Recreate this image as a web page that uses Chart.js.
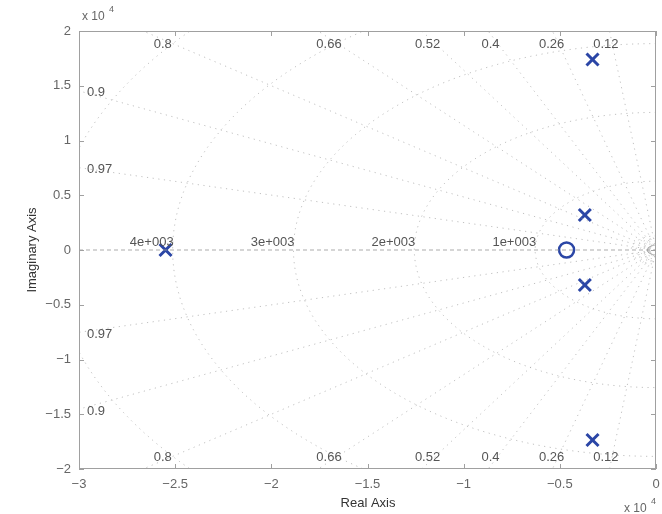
<!DOCTYPE html>
<html>
<head>
<meta charset="utf-8">
<script src="https://cdn.jsdelivr.net/npm/chart.js@4/dist/chart.umd.min.js"></script>
<style>
  body { margin: 0; background: #fff; }
  canvas { display: block; }
</style>
</head>
<body>
<canvas id="pzmap" width="662" height="514"></canvas>
<script>
// values are in units of 1e4 (axis multiplier "x 10^4")
var poleReal = [-2.55, -0.33, -0.37, -0.37, -0.33];
var poleImag = [0, 1.74, 0.32, -0.32, -1.735];
var zeroReal = [-0.465];
var zeroImag = [0];

// sgrid values
var zetaValues = [0.12, 0.26, 0.4, 0.52, 0.66, 0.8, 0.9, 0.97];
var freqHz = [1000, 2000, 3000, 4000, 5000];
var freqLabels = ["1e+003", "2e+003", "3e+003", "4e+003", ""];
var smallFreqHz = [70, 100, 130, 165, 205];

var xTicks = [-3, -2.5, -2, -1.5, -1, -0.5, 0];
var yTicks = [-2, -1.5, -1, -0.5, 0, 0.5, 1, 1.5, 2];

var gridColor = "rgba(160,160,160,0.65)";
var markColor = "#2b46a6";

function radiusOf(hz) {
  return hz * 2 * Math.PI / 1e4;
}

function arcPoints(r) {
  var pts = [];
  for (var a = 90; a <= 270; a += 2) {
    var t = a * Math.PI / 180;
    pts.push({x: r * Math.cos(t), y: r * Math.sin(t)});
  }
  return pts;
}

var datasets = [];

// damping lines
zetaValues.forEach(function(z) {
  var s = Math.sqrt(1 - z * z);
  [1, -1].forEach(function(sign) {
    datasets.push({
      data: [{x: 0, y: 0}, {x: -z * 6, y: sign * s * 6}],
      showLine: true, borderColor: gridColor, borderWidth: 1,
      borderDash: [1.2, 4.5], pointRadius: 0
    });
  });
});

// zeta = 1, the negative real axis
datasets.push({
  data: [{x: -3, y: 0}, {x: 0, y: 0}],
  showLine: true, borderColor: "rgba(150,150,150,0.8)", borderWidth: 1,
  borderDash: [4, 3], pointRadius: 0
});

// natural frequency circles
freqHz.concat(smallFreqHz).forEach(function(f, i) {
  datasets.push({
    data: arcPoints(radiusOf(f)),
    showLine: true, borderColor: gridColor, borderWidth: 1,
    borderDash: (f === smallFreqHz[0]) ? [] : [1.2, 4.5],
    pointRadius: 0, tension: 0
  });
});

datasets.push({
  label: "poles",
  data: poleReal.map(function(v, i) { return {x: v, y: poleImag[i]}; }),
  pointStyle: "crossRot", pointRadius: 8.5, borderWidth: 3,
  borderColor: markColor, backgroundColor: markColor, showLine: false
});
datasets.push({
  label: "zeros",
  data: zeroReal.map(function(v, i) { return {x: v, y: zeroImag[i]}; }),
  pointStyle: "circle", pointRadius: 7.5, borderWidth: 2.5,
  borderColor: markColor, backgroundColor: "rgba(0,0,0,0)", showLine: false
});

var gridText = {
  id: "gridText",
  afterDatasetsDraw: function(chart) {
    var ctx = chart.ctx;
    var xs = chart.scales.x, ys = chart.scales.y;
    var area = chart.chartArea;
    ctx.save();
    ctx.font = "13px 'Liberation Sans', Arial, sans-serif";
    ctx.fillStyle = "#555";
    ctx.textBaseline = "middle";

    // damping labels
    zetaValues.forEach(function(z) {
      var k = Math.sqrt(1 - z * z) / z;
      [1, -1].forEach(function(sign) {
        if (3 * k <= 1.9) {
          ctx.textAlign = "left";
          ctx.fillText(String(z), xs.getPixelForValue(-3) + 8, ys.getPixelForValue(sign * 3 * k) + 2);
        } else {
          ctx.textAlign = "center";
          var yy = sign > 0 ? area.top + 13 : area.bottom - 12;
          ctx.fillText(String(z), xs.getPixelForValue(-1.9 / k) - 6, yy);
        }
      });
    });

    // frequency labels
    ctx.textAlign = "right";
    freqHz.forEach(function(f, i) {
      if (!freqLabels[i]) return;
      ctx.fillText(freqLabels[i], xs.getPixelForValue(-radiusOf(f)) + 1, ys.getPixelForValue(0) - 8);
    });

    // box and inward ticks
    ctx.strokeStyle = "#a0a0a0";
    ctx.lineWidth = 1;
    ctx.strokeRect(area.left + 0.5, area.top + 0.5, area.right - area.left - 1, area.bottom - area.top - 1);
    ctx.beginPath();
    xTicks.forEach(function(v) {
      var px = Math.round(xs.getPixelForValue(v)) + 0.5;
      ctx.moveTo(px, area.bottom); ctx.lineTo(px, area.bottom - 5);
      ctx.moveTo(px, area.top); ctx.lineTo(px, area.top + 5);
    });
    yTicks.forEach(function(v) {
      var py = Math.round(ys.getPixelForValue(v)) + 0.5;
      ctx.moveTo(area.left, py); ctx.lineTo(area.left + 5, py);
      ctx.moveTo(area.right, py); ctx.lineTo(area.right - 5, py);
    });
    ctx.stroke();

    // axis titles and multipliers
    ctx.fillStyle = "#333";
    ctx.font = "13px 'Liberation Sans', Arial, sans-serif";
    ctx.textAlign = "center";
    ctx.fillText("Real Axis", 368, 503);
    ctx.save();
    ctx.translate(32, 250);
    ctx.rotate(-Math.PI / 2);
    ctx.fillText("Imaginary Axis", 0, 0);
    ctx.restore();

    ctx.fillStyle = "#666";
    ctx.textAlign = "left";
    ctx.font = "12px 'Liberation Sans', Arial, sans-serif";
    ctx.fillText("x 10", 82, 17);
    ctx.fillText("x 10", 624, 509);
    ctx.font = "9px 'Liberation Sans', Arial, sans-serif";
    ctx.fillText("4", 109, 10);
    ctx.fillText("4", 651, 502);
    ctx.restore();
  }
};

function fmt(v) {
  return String(v).replace("-", "\u2212");
}

new Chart(document.getElementById("pzmap"), {
  type: "scatter",
  data: { datasets: datasets },
  options: {
    responsive: false,
    animation: false,
    devicePixelRatio: 1,
    layout: { autoPadding: false, padding: { left: 0, right: 6, top: 31, bottom: 0 } },
    plugins: { legend: { display: false }, tooltip: { enabled: false } },
    scales: {
      x: {
        type: "linear", min: -3, max: 0,
        afterBuildTicks: function(s) { s.ticks = xTicks.map(function(v) { return {value: v}; }); },
        afterFit: function(s) { s.height = 45; },
        grid: { display: false }, border: { display: false },
        ticks: { color: "#666", padding: 0, font: { size: 13, family: "'Liberation Sans', Arial, sans-serif" },
                 maxRotation: 0, autoSkip: false, callback: function(v) { return fmt(v); } }
      },
      y: {
        type: "linear", min: -2, max: 2,
        afterBuildTicks: function(s) { s.ticks = yTicks.map(function(v) { return {value: v}; }); },
        afterFit: function(s) { s.width = 79; },
        grid: { display: false }, border: { display: false },
        ticks: { color: "#666", padding: 0, font: { size: 13, family: "'Liberation Sans', Arial, sans-serif" },
                 autoSkip: false, callback: function(v) { return fmt(v); } }
      }
    }
  },
  plugins: [gridText]
});
</script>
</body>
</html>
